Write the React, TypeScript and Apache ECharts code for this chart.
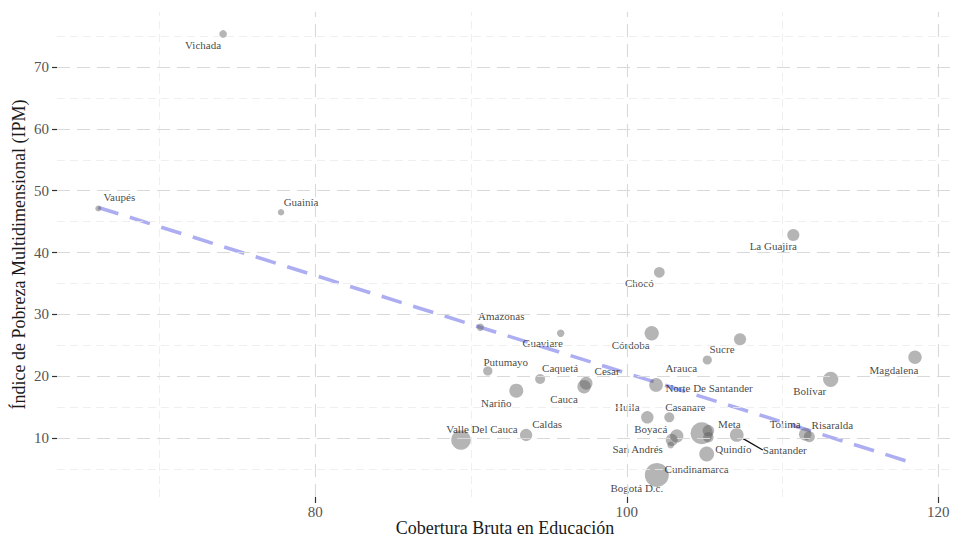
import React, { useEffect, useRef } from "react";
import * as echarts from "echarts";

// Departamentos: cobertura bruta en educación (%) vs. IPM (%), tamaño según población (millones)
const departamentos = [
  "Vichada", "Vaupés", "Guainía", "La Guajira", "Chocó", "Amazonas", "Guaviare",
  "Córdoba", "Sucre", "Arauca", "Magdalena", "Bolívar", "Norte De Santander",
  "Putumayo", "Caquetá", "Cesar", "Cauca", "Nariño", "Huila", "Casanare",
  "Valle Del Cauca", "Caldas", "Boyacá", "San Andrés", "Atlántico", "Antioquia",
  "Meta", "Quindío", "Cundinamarca", "Bogotá D.c.", "Santander", "Tolima", "Risaralda",
];

const cobertura = [
  74.09, 66.08, 77.81, 110.69, 102.09, 90.6, 95.76,
  101.6, 107.27, 105.17, 118.5, 113.09, 101.88,
  91.08, 94.44, 97.39, 97.26, 92.91, 101.32, 102.73,
  89.36, 93.54, 103.21, 102.82, 102.89, 104.81,
  105.24, 105.24, 105.13, 101.93, 107.06, 111.45, 111.72,
];

const ipm = [
  75.33, 47.13, 46.52, 42.85, 36.82, 27.94, 26.97,
  26.97, 26.0, 22.65, 23.09, 19.53, 18.61,
  20.88, 19.58, 18.89, 18.34, 17.69, 13.39, 13.39,
  9.73, 10.53, 10.37, 8.92, 9.73, 10.81,
  11.23, 10.16, 7.46, 4.07, 10.53, 10.65, 10.26,
];

const poblacion = [
  0.11, 0.045, 0.05, 0.9, 0.55, 0.08, 0.09,
  1.6, 0.9, 0.27, 1.3, 2.0, 1.4,
  0.3, 0.4, 1.1, 1.3, 1.5, 1.0, 0.42,
  4.2, 0.95, 1.25, 0.06, 0.9, 6.0,
  0.75, 0.5, 1.8, 7.4, 1.4, 1.0, 0.6,
];

// Recta de tendencia (ajuste lineal)
const tendenciaX = [66.08, 118.5];
const tendenciaY = [47.3, 5.9];

// Marcas de los ejes y líneas de la cuadrícula
const xTicks = [80, 100, 120];
const xMinor = [70, 90, 110];
const yTicks = [10, 20, 30, 40, 50, 60, 70];
const yMinor = [5, 15, 25, 35, 45, 55, 65, 75];

// Desplazamiento de cada etiqueta respecto a su punto (px); null = sin etiqueta
const desplazamientoEtiqueta: Record<string, [number, number] | null> = {
  "Vichada": [-20, 11],
  "Vaupés": [21, -11],
  "Guainía": [20, -10],
  "La Guajira": [-20, 11],
  "Chocó": [-20, 11],
  "Amazonas": [21, -11],
  "Guaviare": [-18, 10],
  "Córdoba": [-21, 12],
  "Sucre": [-18, 10],
  "Arauca": [-26, 8],
  "Magdalena": [-21, 13],
  "Bolívar": [-21, 12],
  "Norte De Santander": [53, 3],
  "Putumayo": [18, -9],
  "Caquetá": [20, -11],
  "Cesar": [21, -12],
  "Cauca": [-20, 12],
  "Nariño": [-20, 12],
  "Huila": [-20, -10],
  "Casanare": [16, -10],
  "Valle Del Cauca": [21, -11],
  "Caldas": [21, -11],
  "Boyacá": [-26, -7],
  "San Andrés": [-33, 4],
  "Atlántico": null,
  "Antioquia": null,
  "Meta": [21, -7],
  "Quindío": [25, 12],
  "Cundinamarca": [-10, 15],
  "Bogotá D.c.": [-20, 13],
  "Santander": [48, 15],
  "Tolima": [-20, -10],
  "Risaralda": [23, -12],
};

const SERIF = "'Liberation Serif', 'Times New Roman', serif";

export default function App() {
  const ref = useRef<HTMLDivElement>(null);

  useEffect(() => {
    if (!ref.current) return;
    const chart = echarts.init(ref.current, undefined, { renderer: "svg" });

    const pMin = Math.min(...poblacion);
    const pMax = Math.max(...poblacion);
    const tamano = (p: number) => 6 + 18 * Math.sqrt((p - pMin) / (pMax - pMin));

    const puntos = departamentos.map((nombre, i) => {
      const d = desplazamientoEtiqueta[nombre];
      const item: any = {
        name: nombre,
        value: [cobertura[i], ipm[i], poblacion[i]],
      };
      if (!d) item.label = { show: false };
      if (nombre === "Santander") {
        item.labelLine = { show: true, lineStyle: { color: "#111", width: 1.3 } };
      }
      return item;
    });

    const major = { color: "#d9d9d9", width: 1.1, type: [13, 7] as any };
    const minor = { color: "#ebebeb", width: 0.8, type: [8, 5] as any };
    const gridData = [
      ...xMinor.map((v) => ({ xAxis: v, lineStyle: minor })),
      ...yMinor.map((v) => ({ yAxis: v, lineStyle: minor })),
      ...xTicks.map((v) => ({ xAxis: v, lineStyle: major })),
      ...yTicks.map((v) => ({ yAxis: v, lineStyle: major })),
    ];

    chart.setOption({
      animation: false,
      backgroundColor: "#ffffff",
      textStyle: { fontFamily: SERIF },
      grid: {
        left: 57,
        right: 0,
        top: 12,
        bottom: 43,
        containLabel: false,
        outerBoundsMode: "none",
      },
      xAxis: {
        type: "value",
        min: 63.43,
        max: 120.94,
        name: "Cobertura Bruta en Educación",
        nameLocation: "middle",
        nameGap: 22,
        nameMoveOverlap: false,
        nameTextStyle: { fontSize: 18, color: "#1a1a1a", fontFamily: SERIF },
        axisLine: { show: false },
        splitLine: { show: false },
        axisTick: {
          show: true,
          customValues: xTicks,
          length: 6,
          lineStyle: { color: "#333", width: 1.2 },
        },
        axisLabel: {
          customValues: xTicks,
          margin: 7,
          fontSize: 15,
          color: "#555",
          fontFamily: SERIF,
        },
      },
      yAxis: {
        type: "value",
        min: 0.51,
        max: 78.88,
        name: "Índice de Pobreza Multidimensional (IPM)",
        nameLocation: "middle",
        nameGap: 29,
        nameMoveOverlap: false,
        nameTextStyle: { fontSize: 18, color: "#1a1a1a", fontFamily: SERIF },
        axisLine: { show: false },
        splitLine: { show: false },
        axisTick: {
          show: true,
          customValues: yTicks,
          length: 5,
          lineStyle: { color: "#333", width: 1.2 },
        },
        axisLabel: {
          customValues: yTicks,
          margin: 8,
          fontSize: 15,
          color: "#555",
          fontFamily: SERIF,
        },
      },
      series: [
        {
          type: "scatter",
          data: [],
          silent: true,
          z: 0,
          markLine: {
            silent: true,
            symbol: ["none", "none"],
            label: { show: false },
            emphasis: { disabled: true },
            data: gridData,
          },
        },
        {
          type: "line",
          data: tendenciaX.map((x, i) => [x, tendenciaY[i]]),
          symbol: "none",
          silent: true,
          z: 2,
          lineStyle: { color: "rgba(105,105,232,0.55)", width: 3.6, type: [21, 12] },
        },
        {
          type: "scatter",
          data: puntos,
          z: 3,
          symbolSize: (val: number[]) => tamano(val[2]),
          itemStyle: { color: "rgba(92,92,92,0.57)" },
          label: {
            show: true,
            position: "inside",
            formatter: "{b}",
            fontSize: 11,
            color: "#111",
            fontFamily: SERIF,
          },
          labelLine: { show: false },
          labelLayout: (params: any) => {
            const d = desplazamientoEtiqueta[departamentos[params.dataIndex]];
            return d ? { dx: d[0], dy: d[1] } : {};
          },
          emphasis: { disabled: true },
        },
      ],
    });

    return () => chart.dispose();
  }, []);

  return <div ref={ref} style={{ width: 953, height: 540, position: "absolute", left: 0, top: 0 }} />;
}
